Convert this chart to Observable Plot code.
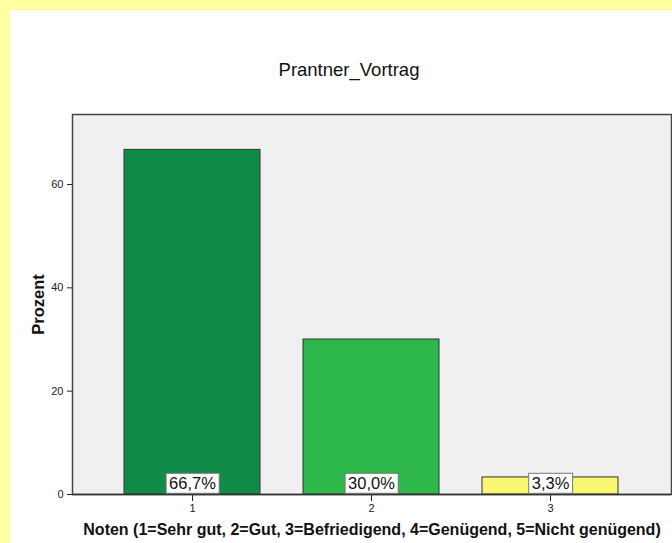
<!DOCTYPE html>
<html>
<head>
<meta charset="utf-8">
<script src="https://cdn.jsdelivr.net/npm/d3@7"></script>
<script src="https://cdn.jsdelivr.net/npm/@observablehq/plot@0.6"></script>
<style>
  html, body { margin: 0; padding: 0; }
  body { width: 672px; height: 543px; background: #FFFFA0; position: relative; overflow: hidden; }
  #white { position: absolute; left: 10px; top: 10px; width: 662px; height: 533px; background: #ffffff; }
  #chart { position: absolute; left: 0; top: 0; }
</style>
</head>
<body>
<div id="white"></div>
<div id="chart"></div>
<script>
const title = "Prantner_Vortrag";
const xTitle = "Noten (1=Sehr gut, 2=Gut, 3=Befriedigend, 4=Genügend, 5=Nicht genügend)";
const yTitle = "Prozent";
const categories = ["1", "2", "3"];
const values = [66.7, 30.0, 3.3];
const labels = ["66,7%", "30,0%", "3,3%"];
const yTicks = [0, 20, 40, 60];
const barColors = ["#118C48", "#2EB84B", "#FAF870"];

const data = categories.map((c, i) => ({cat: c, value: values[i], label: labels[i]}));

const plot = Plot.plot({
  width: 672,
  height: 543,
  marginTop: 114,
  marginRight: 1,
  marginBottom: 49,
  marginLeft: 72,
  style: {background: "transparent", fontFamily: "'Liberation Sans', Arial, sans-serif", fontSize: "11px", color: "#222", overflow: "visible"},
  x: {domain: categories, paddingInner: 0.24, paddingOuter: 0.29, label: null, tickSize: 7, tickPadding: 3},
  y: {domain: [0, 73.55], ticks: yTicks, tickSize: 5, tickPadding: 4, label: null},
  color: {domain: categories, range: barColors},
  marks: [
    Plot.frame({fill: "#F0F0F0", stroke: "#444", strokeWidth: 1.5}),
    Plot.barY(data, {x: "cat", y: "value", fill: "cat", stroke: "#333", strokeWidth: 1}),
    Plot.ruleY([0], {stroke: "#333", strokeWidth: 1.5}),
    Plot.text(data, {x: "cat", y: 0, text: "label", dy: -10.5, fontSize: 16.5, fill: "#111"}),
    Plot.text([title], {text: d => d, frameAnchor: "top", lineAnchor: "middle", textAnchor: "middle", dx: -23, dy: -44, fontSize: 18.5, fill: "#111"}),
    Plot.text([xTitle], {text: d => d, frameAnchor: "bottom", lineAnchor: "middle", textAnchor: "middle", dy: 35, fontSize: 16, fontWeight: "bold", fill: "#111"}),
    Plot.text([yTitle], {text: d => d, frameAnchor: "left", lineAnchor: "middle", textAnchor: "middle", dx: -34, rotate: -90, fontSize: 16.5, fontWeight: "bold", fill: "#111"})
  ]
});

document.getElementById("chart").appendChild(plot);

// white boxes behind the percentage labels, sized to each text's measured extent
const labelSet = new Set(labels);
plot.querySelectorAll("text").forEach(t => {
  if (!labelSet.has(t.textContent)) return;
  const bb = t.getBBox();
  const r = document.createElementNS("http://www.w3.org/2000/svg", "rect");
  r.setAttribute("x", bb.x - 3);
  r.setAttribute("y", bb.y - 1);
  r.setAttribute("width", bb.width + 6);
  r.setAttribute("height", bb.height + 2);
  r.setAttribute("fill", "#ffffff");
  r.setAttribute("stroke", "#777");
  r.setAttribute("stroke-width", "1");
  const tr = t.getAttribute("transform");
  if (tr) r.setAttribute("transform", tr);
  t.parentNode.insertBefore(r, t);
});
</script>
</body>
</html>
